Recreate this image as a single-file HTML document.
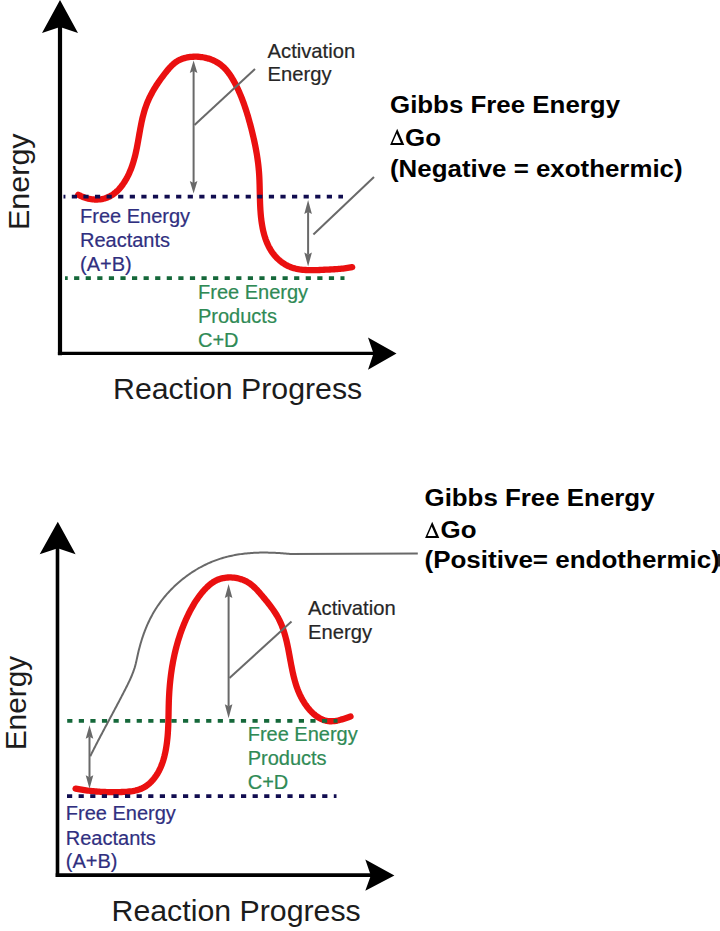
<!DOCTYPE html>
<html><head><meta charset="utf-8">
<style>
html,body{margin:0;padding:0;background:#fff;}
body{width:720px;height:931px;overflow:hidden;}
svg{display:block;}
text{font-family:"Liberation Sans",sans-serif;}
.s{stroke-width:0.2px;}
.b{font-weight:bold;}
</style></head><body>
<svg width="720" height="931" viewBox="0 0 720 931">
<g id="top">
  <path d="M78.28,194.68 L79.63,195.42 L81.01,196.11 L82.42,196.73 L83.85,197.30 L85.30,197.80 L86.77,198.24 L88.25,198.61 L89.74,198.93 L91.24,199.17 L92.75,199.36 L94.25,199.48 L95.75,199.53 L97.25,199.52 L98.74,199.44 L100.21,199.29 L101.67,199.07 L103.11,198.79 L104.53,198.43 L105.92,198.01 L107.29,197.51 L108.62,196.95 L109.92,196.31 L111.18,195.61 L112.41,194.84 L113.61,194.01 L114.77,193.12 L115.90,192.18 L117.00,191.19 L118.06,190.15 L119.10,189.06 L120.10,187.93 L121.06,186.76 L122.00,185.56 L122.90,184.32 L123.77,183.06 L124.61,181.77 L125.42,180.45 L126.20,179.12 L126.94,177.77 L127.66,176.40 L128.34,175.03 L129.00,173.65 L129.62,172.26 L130.22,170.86 L130.79,169.46 L131.33,168.05 L131.85,166.63 L132.34,165.21 L132.81,163.79 L133.26,162.36 L133.69,160.92 L134.10,159.49 L134.49,158.04 L134.87,156.59 L135.23,155.14 L135.57,153.69 L135.91,152.23 L136.22,150.77 L136.53,149.31 L136.83,147.85 L137.12,146.38 L137.40,144.91 L137.67,143.44 L137.94,141.97 L138.20,140.50 L138.46,139.03 L138.72,137.56 L138.98,136.09 L139.23,134.62 L139.49,133.15 L139.75,131.68 L140.02,130.21 L140.28,128.75 L140.56,127.28 L140.84,125.82 L141.13,124.36 L141.43,122.90 L141.73,121.45 L142.05,120.00 L142.38,118.55 L142.73,117.11 L143.09,115.67 L143.47,114.23 L143.86,112.80 L144.27,111.37 L144.70,109.95 L145.15,108.54 L145.62,107.13 L146.12,105.73 L146.64,104.33 L147.18,102.94 L147.75,101.56 L148.35,100.18 L148.97,98.81 L149.61,97.45 L150.27,96.09 L150.96,94.75 L151.67,93.41 L152.39,92.08 L153.14,90.75 L153.91,89.44 L154.69,88.13 L155.49,86.83 L156.31,85.54 L157.14,84.26 L157.99,82.98 L158.85,81.72 L159.72,80.47 L160.61,79.22 L161.51,77.98 L162.41,76.76 L163.33,75.54 L164.26,74.33 L165.20,73.13 L166.14,71.94 L167.09,70.77 L168.06,69.61 L169.03,68.47 L170.03,67.36 L171.04,66.29 L172.09,65.25 L173.15,64.26 L174.25,63.32 L175.39,62.43 L176.56,61.61 L177.77,60.85 L179.02,60.17 L180.33,59.56 L181.67,59.02 L183.04,58.54 L184.45,58.12 L185.88,57.75 L187.34,57.44 L188.82,57.18 L190.32,56.98 L191.83,56.83 L193.35,56.73 L194.88,56.68 L196.42,56.69 L197.96,56.75 L199.50,56.86 L201.04,57.02 L202.57,57.24 L204.10,57.50 L205.61,57.82 L207.11,58.19 L208.58,58.61 L210.04,59.08 L211.48,59.61 L212.88,60.18 L214.26,60.80 L215.60,61.47 L216.91,62.20 L218.18,62.97 L219.41,63.79 L220.60,64.66 L221.74,65.58 L222.85,66.54 L223.91,67.55 L224.94,68.59 L225.94,69.67 L226.90,70.78 L227.83,71.93 L228.72,73.10 L229.59,74.30 L230.43,75.53 L231.25,76.78 L232.04,78.05 L232.81,79.34 L233.55,80.64 L234.28,81.95 L234.99,83.28 L235.68,84.61 L236.36,85.95 L237.02,87.30 L237.67,88.65 L238.30,90.01 L238.92,91.37 L239.52,92.74 L240.11,94.12 L240.69,95.50 L241.26,96.88 L241.81,98.27 L242.35,99.67 L242.88,101.07 L243.40,102.47 L243.91,103.88 L244.41,105.29 L244.89,106.71 L245.37,108.13 L245.84,109.55 L246.30,110.98 L246.75,112.41 L247.19,113.84 L247.63,115.28 L248.06,116.72 L248.47,118.16 L248.89,119.61 L249.29,121.06 L249.69,122.51 L250.09,123.96 L250.48,125.42 L250.86,126.87 L251.24,128.33 L251.61,129.79 L251.98,131.25 L252.34,132.72 L252.70,134.18 L253.05,135.65 L253.39,137.12 L253.72,138.58 L254.05,140.05 L254.37,141.53 L254.69,143.00 L254.99,144.47 L255.29,145.95 L255.58,147.42 L255.86,148.90 L256.13,150.37 L256.40,151.85 L256.65,153.33 L256.90,154.81 L257.13,156.29 L257.36,157.77 L257.57,159.25 L257.78,160.73 L257.97,162.21 L258.16,163.69 L258.33,165.17 L258.49,166.65 L258.64,168.13 L258.78,169.61 L258.91,171.09 L259.02,172.57 L259.13,174.05 L259.22,175.53 L259.30,177.01 L259.37,178.49 L259.44,179.97 L259.49,181.45 L259.54,182.93 L259.59,184.41 L259.63,185.89 L259.67,187.38 L259.70,188.86 L259.73,190.35 L259.77,191.83 L259.80,193.32 L259.83,194.81 L259.86,196.30 L259.90,197.80 L259.94,199.29 L259.99,200.79 L260.04,202.29 L260.09,203.80 L260.16,205.30 L260.23,206.81 L260.31,208.32 L260.40,209.84 L260.51,211.36 L260.62,212.88 L260.75,214.40 L260.89,215.93 L261.04,217.46 L261.22,218.99 L261.40,220.52 L261.61,222.04 L261.83,223.56 L262.08,225.08 L262.34,226.59 L262.63,228.10 L262.94,229.60 L263.27,231.09 L263.63,232.57 L264.01,234.04 L264.42,235.50 L264.86,236.95 L265.32,238.38 L265.82,239.80 L266.35,241.20 L266.90,242.58 L267.49,243.94 L268.12,245.29 L268.77,246.61 L269.47,247.92 L270.20,249.20 L270.96,250.45 L271.77,251.68 L272.61,252.89 L273.50,254.07 L274.42,255.22 L275.39,256.34 L276.39,257.43 L277.43,258.48 L278.50,259.49 L279.61,260.47 L280.76,261.41 L281.93,262.30 L283.14,263.15 L284.38,263.96 L285.65,264.71 L286.94,265.41 L288.26,266.07 L289.61,266.66 L290.98,267.20 L292.38,267.69 L293.79,268.12 L295.23,268.51 L296.69,268.84 L298.16,269.13 L299.64,269.38 L301.14,269.59 L302.65,269.77 L304.17,269.91 L305.70,270.01 L307.24,270.09 L308.78,270.14 L310.32,270.17 L311.87,270.18 L313.41,270.17 L314.96,270.14 L316.50,270.10 L318.04,270.04 L319.57,269.98 L321.09,269.91 L322.60,269.84 L324.10,269.77 L325.59,269.70 L327.07,269.64 L328.54,269.57 L330.00,269.50 L331.45,269.42 L332.90,269.34 L334.35,269.25 L335.80,269.16 L337.25,269.06 L338.70,268.94 L340.16,268.82 L341.62,268.68 L343.09,268.52 L344.57,268.35 L346.07,268.16 L347.58,267.95 L349.10,267.72 L350.65,267.47 L352.21,267.20" fill="none" stroke="#ea1010" stroke-width="6.3" stroke-linecap="round" stroke-linejoin="round"/>
  <line x1="63.5" y1="196.6" x2="343" y2="196.6" stroke="#110d50" stroke-width="3.7" stroke-dasharray="5.2 6.39" stroke-dashoffset="3.29"/>
  <line x1="65" y1="278.2" x2="344.5" y2="278.2" stroke="#15683a" stroke-width="3.7" stroke-dasharray="5.2 6.38" stroke-dashoffset="2.48"/>
  <line x1="193.6" y1="71.0" x2="193.6" y2="183.0" stroke="#696969" stroke-width="2"/><polygon points="193.6,60.5 197.4,73.0 193.6,71.0 189.79999999999998,73.0" fill="#696969"/><polygon points="193.6,193.5 197.4,181.0 193.6,183.0 189.79999999999998,181.0" fill="#696969"/>
  <line x1="194.5" y1="125" x2="255" y2="69" stroke="#696969" stroke-width="2"/>
  <line x1="308.1" y1="212.1" x2="308.1" y2="254.5" stroke="#696969" stroke-width="2"/><polygon points="308.1,200.1 311.90000000000003,214.1 308.1,212.1 304.3,214.1" fill="#696969"/><polygon points="308.1,266.5 311.90000000000003,252.5 308.1,254.5 304.3,252.5" fill="#696969"/>
  <line x1="313.4" y1="234.4" x2="374" y2="177" stroke="#696969" stroke-width="2"/>
  <line x1="60" y1="26" x2="60" y2="355.3" stroke="#000" stroke-width="4.2"/>
  <polygon points="60,0 78,33 60,27 42,33" fill="#000"/>
  <line x1="57.9" y1="353.4" x2="374" y2="353.4" stroke="#000" stroke-width="3.4"/>
  <polygon points="396.5,353.6 368,369.8 373.5,353.6 368,337.6" fill="#000"/>
  <text font-size="29" transform="translate(28.7,230) rotate(-90) scale(1.052,1)" fill="#1c1c1c">Energy</text>
  <text x="113" y="399" font-size="30.3" fill="#1c1c1c">Reaction Progress</text>
  <text class="s" font-size="20.2" fill="#262626" stroke="#262626"><tspan x="267.6" y="57.7">Activation</tspan><tspan x="267.6" y="80.9">Energy</tspan></text>
  <text class="s" font-size="20" fill="#302f80" stroke="#302f80"><tspan x="80" y="222.6">Free Energy</tspan><tspan x="80" y="246.6">Reactants</tspan><tspan x="80" y="270.6">(A+B)</tspan></text>
  <text class="s" font-size="20" fill="#2f8a55" stroke="#2f8a55"><tspan x="198" y="299.1">Free Energy</tspan><tspan x="198" y="323.2">Products</tspan><tspan x="198" y="346.7">C+D</tspan></text>
  <text class="b" font-size="24.4" fill="#000" transform="translate(390,113.2) scale(1.061,1)">Gibbs Free Energy</text><text class="b" font-size="24.4" fill="#000" transform="translate(390,176.5) scale(1.061,1)">(Negative = exothermic)</text>
  <path transform="translate(390.1,145.1)" fill="#000" fill-rule="evenodd" d="M0,0 L7.1,-16.3 L14.2,0 Z M2.44,-2.1 L6.61,-11.67 L10.78,-2.1 Z"/><text class="b" font-size="24.4" fill="#000" transform="translate(405,145.5) scale(1.061,1)">Go</text>
</g>
<g id="bot">
  <path d="M90.21,756.30 L90.87,754.97 L91.54,753.63 L92.21,752.29 L92.88,750.96 L93.56,749.62 L94.23,748.29 L94.91,746.96 L95.59,745.63 L96.28,744.30 L96.96,742.97 L97.65,741.64 L98.34,740.31 L99.03,738.99 L99.73,737.66 L100.42,736.33 L101.12,735.01 L101.82,733.68 L102.52,732.36 L103.22,731.04 L103.92,729.71 L104.62,728.39 L105.32,727.07 L106.03,725.74 L106.73,724.42 L107.44,723.10 L108.14,721.78 L108.85,720.46 L109.56,719.13 L110.26,717.81 L110.97,716.49 L111.67,715.17 L112.38,713.85 L113.09,712.52 L113.79,711.20 L114.50,709.88 L115.20,708.56 L115.90,707.23 L116.61,705.91 L117.31,704.58 L118.01,703.26 L118.71,701.93 L119.40,700.61 L120.10,699.28 L120.80,697.95 L121.49,696.63 L122.18,695.30 L122.87,693.97 L123.56,692.64 L124.25,691.31 L124.93,689.97 L125.61,688.64 L126.29,687.31 L126.96,685.97 L127.63,684.63 L128.29,683.29 L128.93,681.94 L129.57,680.59 L130.19,679.23 L130.80,677.87 L131.39,676.50 L131.97,675.12 L132.52,673.74 L133.05,672.35 L133.57,670.95 L134.05,669.54 L134.52,668.12 L134.95,666.69 L135.36,665.25 L135.74,663.80 L136.09,662.33 L136.42,660.86 L136.74,659.39 L137.06,657.91 L137.37,656.43 L137.70,654.96 L138.03,653.49 L138.38,652.03 L138.73,650.57 L139.10,649.11 L139.47,647.66 L139.86,646.22 L140.26,644.78 L140.67,643.34 L141.09,641.91 L141.52,640.49 L141.97,639.07 L142.43,637.66 L142.90,636.25 L143.38,634.85 L143.88,633.46 L144.39,632.07 L144.91,630.68 L145.45,629.31 L146.01,627.94 L146.57,626.58 L147.15,625.22 L147.75,623.87 L148.36,622.53 L148.99,621.20 L149.63,619.87 L150.29,618.55 L150.97,617.24 L151.66,615.93 L152.37,614.64 L153.09,613.35 L153.84,612.07 L154.60,610.80 L155.37,609.53 L156.17,608.28 L156.98,607.03 L157.81,605.79 L158.66,604.57 L159.53,603.35 L160.41,602.14 L161.31,600.94 L162.22,599.75 L163.15,598.57 L164.10,597.40 L165.07,596.24 L166.04,595.09 L167.04,593.95 L168.05,592.83 L169.07,591.71 L170.11,590.61 L171.16,589.52 L172.23,588.44 L173.31,587.38 L174.40,586.32 L175.50,585.28 L176.62,584.25 L177.75,583.24 L178.90,582.24 L180.06,581.25 L181.22,580.28 L182.40,579.32 L183.59,578.38 L184.80,577.45 L186.01,576.53 L187.23,575.63 L188.47,574.75 L189.71,573.88 L190.97,573.02 L192.23,572.18 L193.50,571.36 L194.78,570.56 L196.07,569.77 L197.37,568.99 L198.68,568.24 L200.00,567.50 L201.32,566.78 L202.65,566.08 L203.99,565.39 L205.34,564.73 L206.69,564.08 L208.05,563.45 L209.42,562.84 L210.79,562.24 L212.16,561.67 L213.55,561.12 L214.94,560.58 L216.33,560.07 L217.73,559.57 L219.13,559.10 L220.54,558.64 L221.95,558.21 L223.37,557.79 L224.79,557.39 L226.21,557.01 L227.64,556.64 L229.08,556.30 L230.51,555.97 L231.96,555.66 L233.40,555.36 L234.85,555.08 L236.30,554.82 L237.76,554.57 L239.22,554.34 L240.68,554.13 L242.15,553.93 L243.61,553.74 L245.09,553.57 L246.56,553.42 L248.04,553.28 L249.52,553.15 L251.00,553.03 L252.48,552.93 L253.97,552.85 L255.46,552.77 L256.95,552.71 L258.44,552.66 L259.94,552.62 L261.44,552.60 L262.93,552.58 L264.43,552.58 L265.93,552.59 L267.44,552.61 L268.94,552.63 L270.45,552.67 L271.95,552.72 L273.46,552.78 L274.97,552.85 L276.48,552.93 L277.99,553.01 L279.50,553.11 L281.01,553.21 L282.52,553.32 L284.03,553.44 L285.54,553.57 L287.05,553.70 L288.56,553.84 L290.07,553.99 L417.8,553.6" fill="none" stroke="#696969" stroke-width="2"/>
  <path d="M75.57,788.62 L77.07,788.91 L78.57,789.19 L80.07,789.45 L81.56,789.70 L83.04,789.93 L84.53,790.16 L86.01,790.37 L87.48,790.56 L88.96,790.75 L90.43,790.92 L91.90,791.08 L93.38,791.23 L94.85,791.37 L96.32,791.49 L97.79,791.60 L99.26,791.71 L100.74,791.80 L102.21,791.88 L103.69,791.95 L105.17,792.01 L106.65,792.05 L108.14,792.09 L109.63,792.12 L111.12,792.14 L112.62,792.15 L114.12,792.14 L115.63,792.13 L117.15,792.11 L118.67,792.08 L120.19,792.04 L121.73,792.00 L123.27,791.94 L124.81,791.86 L126.35,791.77 L127.88,791.65 L129.41,791.50 L130.93,791.32 L132.44,791.10 L133.93,790.84 L135.40,790.53 L136.86,790.18 L138.28,789.77 L139.68,789.30 L141.06,788.78 L142.39,788.18 L143.69,787.52 L144.96,786.78 L146.18,785.99 L147.37,785.13 L148.52,784.22 L149.62,783.26 L150.69,782.25 L151.71,781.22 L152.70,780.14 L153.64,779.04 L154.54,777.90 L155.41,776.73 L156.23,775.53 L157.02,774.30 L157.78,773.04 L158.50,771.76 L159.19,770.46 L159.84,769.13 L160.46,767.78 L161.05,766.41 L161.61,765.02 L162.14,763.61 L162.64,762.19 L163.11,760.75 L163.55,759.29 L163.97,757.82 L164.37,756.35 L164.74,754.86 L165.08,753.36 L165.40,751.86 L165.70,750.34 L165.98,748.83 L166.24,747.31 L166.48,745.78 L166.70,744.26 L166.91,742.74 L167.09,741.22 L167.27,739.70 L167.42,738.18 L167.56,736.67 L167.69,735.16 L167.81,733.65 L167.91,732.14 L168.01,730.64 L168.09,729.14 L168.16,727.64 L168.23,726.14 L168.29,724.65 L168.34,723.16 L168.38,721.67 L168.42,720.18 L168.46,718.69 L168.49,717.20 L168.52,715.72 L168.55,714.23 L168.58,712.75 L168.60,711.26 L168.63,709.78 L168.66,708.30 L168.69,706.82 L168.73,705.33 L168.77,703.85 L168.81,702.37 L168.86,700.89 L168.92,699.41 L168.98,697.92 L169.05,696.44 L169.13,694.96 L169.21,693.48 L169.30,691.99 L169.40,690.51 L169.51,689.02 L169.63,687.54 L169.75,686.06 L169.88,684.58 L170.02,683.09 L170.17,681.61 L170.33,680.13 L170.49,678.65 L170.67,677.17 L170.85,675.69 L171.04,674.22 L171.24,672.74 L171.45,671.26 L171.67,669.79 L171.89,668.32 L172.13,666.85 L172.38,665.38 L172.63,663.91 L172.90,662.44 L173.17,660.97 L173.46,659.51 L173.76,658.05 L174.06,656.59 L174.38,655.13 L174.70,653.68 L175.04,652.22 L175.39,650.77 L175.75,649.32 L176.11,647.88 L176.49,646.43 L176.88,644.99 L177.29,643.55 L177.70,642.12 L178.12,640.69 L178.56,639.26 L179.01,637.83 L179.47,636.41 L179.94,634.99 L180.42,633.57 L180.92,632.15 L181.42,630.74 L181.94,629.34 L182.47,627.94 L183.02,626.54 L183.57,625.14 L184.14,623.75 L184.72,622.36 L185.32,620.98 L185.93,619.60 L186.55,618.22 L187.18,616.85 L187.83,615.49 L188.49,614.12 L189.16,612.77 L189.85,611.42 L190.56,610.07 L191.27,608.74 L192.01,607.41 L192.75,606.09 L193.52,604.78 L194.30,603.49 L195.09,602.20 L195.90,600.93 L196.73,599.68 L197.58,598.44 L198.44,597.22 L199.32,596.01 L200.23,594.82 L201.14,593.66 L202.08,592.51 L203.04,591.39 L204.02,590.28 L205.01,589.20 L206.03,588.15 L207.07,587.12 L208.13,586.12 L209.22,585.16 L210.33,584.23 L211.48,583.35 L212.65,582.52 L213.86,581.74 L215.10,581.01 L216.38,580.34 L217.70,579.74 L219.05,579.21 L220.45,578.75 L221.89,578.36 L223.35,578.03 L224.85,577.78 L226.36,577.60 L227.89,577.49 L229.43,577.44 L230.98,577.46 L232.54,577.54 L234.09,577.69 L235.63,577.90 L237.16,578.18 L238.68,578.52 L240.17,578.92 L241.64,579.38 L243.07,579.91 L244.47,580.49 L245.83,581.13 L247.15,581.83 L248.41,582.59 L249.64,583.40 L250.82,584.26 L251.96,585.16 L253.08,586.10 L254.16,587.09 L255.22,588.10 L256.25,589.14 L257.26,590.21 L258.26,591.31 L259.25,592.42 L260.22,593.54 L261.19,594.68 L262.16,595.82 L263.13,596.96 L264.09,598.11 L265.05,599.27 L266.01,600.43 L266.96,601.60 L267.91,602.77 L268.84,603.95 L269.76,605.14 L270.67,606.34 L271.57,607.55 L272.45,608.76 L273.31,609.99 L274.16,611.22 L274.98,612.47 L275.79,613.73 L276.57,615.00 L277.32,616.28 L278.05,617.58 L278.75,618.89 L279.42,620.21 L280.06,621.55 L280.68,622.90 L281.26,624.27 L281.83,625.64 L282.36,627.03 L282.87,628.42 L283.36,629.83 L283.83,631.24 L284.28,632.67 L284.71,634.10 L285.12,635.54 L285.52,636.98 L285.89,638.43 L286.26,639.89 L286.61,641.35 L286.94,642.81 L287.27,644.28 L287.58,645.75 L287.89,647.22 L288.19,648.69 L288.48,650.17 L288.76,651.65 L289.04,653.13 L289.32,654.61 L289.59,656.10 L289.86,657.58 L290.13,659.06 L290.41,660.54 L290.68,662.02 L290.95,663.50 L291.23,664.98 L291.52,666.45 L291.81,667.92 L292.11,669.39 L292.41,670.86 L292.73,672.32 L293.06,673.78 L293.39,675.23 L293.74,676.68 L294.11,678.12 L294.49,679.56 L294.88,680.99 L295.29,682.41 L295.72,683.83 L296.17,685.24 L296.64,686.64 L297.13,688.03 L297.64,689.42 L298.18,690.79 L298.74,692.16 L299.33,693.52 L299.94,694.86 L300.59,696.20 L301.26,697.53 L301.96,698.84 L302.69,700.14 L303.46,701.43 L304.25,702.71 L305.09,703.98 L305.96,705.23 L306.86,706.46 L307.80,707.68 L308.77,708.87 L309.78,710.03 L310.82,711.16 L311.89,712.25 L312.99,713.30 L314.13,714.30 L315.29,715.26 L316.49,716.16 L317.71,717.00 L318.96,717.78 L320.24,718.49 L321.54,719.13 L322.87,719.69 L324.23,720.18 L325.61,720.58 L327.01,720.89 L328.44,721.11 L329.89,721.24 L331.36,721.26 L332.85,721.20 L334.35,721.05 L335.86,720.83 L337.37,720.54 L338.89,720.20 L340.40,719.82 L341.90,719.39 L343.39,718.94 L344.87,718.47 L346.32,717.99 L347.75,717.52 L349.15,717.04 L350.52,716.59" fill="none" stroke="#ea1010" stroke-width="6.3" stroke-linecap="round" stroke-linejoin="round"/>
  <line x1="62" y1="796.2" x2="336.5" y2="796.2" stroke="#110d50" stroke-width="3.7" stroke-dasharray="5.2 6.40" stroke-dashoffset="6.60"/>
  <line x1="62" y1="720.9" x2="337.5" y2="720.9" stroke="#15683a" stroke-width="3.7" stroke-dasharray="5.2 6.38" stroke-dashoffset="6.38"/>
  <line x1="228.6" y1="595.9" x2="228.6" y2="706.3" stroke="#696969" stroke-width="2"/><polygon points="228.6,583.9 232.4,597.9 228.6,595.9 224.79999999999998,597.9" fill="#696969"/><polygon points="228.6,718.3 232.4,704.3 228.6,706.3 224.79999999999998,704.3" fill="#696969"/>
  <line x1="229.5" y1="678" x2="291.5" y2="621.5" stroke="#696969" stroke-width="2"/>
  <line x1="89.5" y1="736.8" x2="89.5" y2="777.2" stroke="#696969" stroke-width="2"/><polygon points="89.5,725.3 93.3,738.8 89.5,736.8 85.7,738.8" fill="#696969"/><polygon points="89.5,788.7 93.3,775.2 89.5,777.2 85.7,775.2" fill="#696969"/>
  <line x1="57.5" y1="547" x2="57.5" y2="877" stroke="#000" stroke-width="3.6"/>
  <polygon points="57.8,521.8 75.6,554.2 57.8,548.2 39.7,554.2" fill="#000"/>
  <line x1="55.7" y1="875.2" x2="372" y2="875.2" stroke="#000" stroke-width="3.8"/>
  <polygon points="394.4,875.4 365.3,890.7 370.8,875.4 365.3,859.4" fill="#000"/>
  <text font-size="29" transform="translate(26.3,750.3) rotate(-90) scale(1.03,1)" fill="#1c1c1c">Energy</text>
  <text x="111.5" y="920.5" font-size="30.3" fill="#1c1c1c">Reaction Progress</text>
  <text class="s" font-size="20.2" fill="#262626" stroke="#262626"><tspan x="308.1" y="615">Activation</tspan><tspan x="308.1" y="639.1">Energy</tspan></text>
  <text class="s" font-size="20" fill="#2f8a55" stroke="#2f8a55"><tspan x="247.7" y="740.6">Free Energy</tspan><tspan x="247.7" y="765">Products</tspan><tspan x="247.7" y="789.4">C+D</tspan></text>
  <text class="s" font-size="20" fill="#302f80" stroke="#302f80"><tspan x="65.8" y="820.1">Free Energy</tspan><tspan x="65.8" y="844.6">Reactants</tspan><tspan x="65.8" y="868.3">(A+B)</tspan></text>
  <text class="b" font-size="24.4" fill="#000" transform="translate(424.5,506.1) scale(1.061,1)">Gibbs Free Energy</text><text class="b" font-size="24.4" fill="#000" transform="translate(424.5,568.3) scale(1.066,1)">(Positive= endothermic)</text><rect x="717.8" y="554" width="2.2" height="12.5" fill="#2a2a2a"/>
  <path transform="translate(425.1,538.1)" fill="#000" fill-rule="evenodd" d="M0,0 L7.1,-16.3 L14.2,0 Z M2.44,-2.1 L6.61,-11.67 L10.78,-2.1 Z"/><text class="b" font-size="24.4" fill="#000" transform="translate(440.5,538.3) scale(1.061,1)">Go</text>
</g>
</svg>
</body></html>
